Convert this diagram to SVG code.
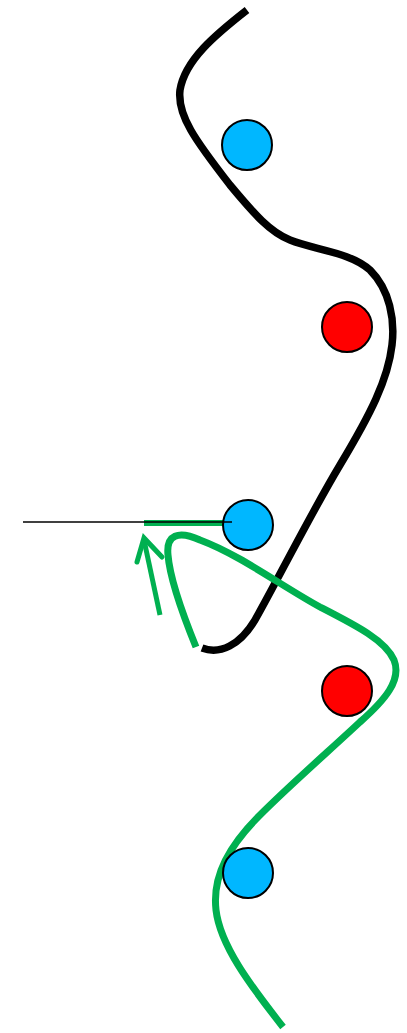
<svg xmlns="http://www.w3.org/2000/svg" width="407" height="1033" viewBox="0 0 407 1033">
<style>
.curve{fill:none;stroke-linecap:butt;stroke-linejoin:round}
.blk{stroke:#000;stroke-width:7.5}
.grn{stroke:#00B050;stroke-width:7}
.blue{fill:#00B7FF;stroke:#000;stroke-width:2}
.red{fill:#FF0000;stroke:#000;stroke-width:2}
</style>
<rect width="407" height="1033" fill="#fff"/>
<g id="connectors">
<path id="black-curve" class="curve blk" d="M247,10 C215,35 185,60 180,90 C177,115 195,140 230,185 C255,215 270,232 290,240 C315,250 350,252 370,270 C390,290 395,320 392,345 C388,380 370,415 340,465 C310,515 275,585 255,620 C240,645 220,655 202,648"/>
<path id="green-curve" class="curve grn" d="M196,647 C185,620 170,580 168,555 C166,535 178,530 200,540 C240,555 280,585 320,607 C355,625 385,640 394,660 C402,680 385,700 360,722 C330,750 290,785 260,815 C230,845 212,875 216,910 C220,945 250,985 283,1027"/>
<line id="green-bar" x1="144" y1="523" x2="226" y2="523" stroke="#00B050" stroke-width="6"/>
<g id="green-arrow" fill="none" stroke="#00B050" stroke-width="5">
<line x1="160" y1="615" x2="144" y2="540"/>
<polyline points="137,562 144,538 162,557" stroke-linejoin="miter" stroke-linecap="round"/>
</g>
</g>
<g id="node-blue1"><circle class="blue" cx="247" cy="145" r="25"/></g>
<g id="node-red1"><circle class="red" cx="347" cy="327" r="25"/></g>
<g id="node-blue2"><circle class="blue" cx="248" cy="525" r="25"/></g>
<g id="node-red2"><circle class="red" cx="347" cy="691" r="25"/></g>
<g id="node-blue3"><circle class="blue" cx="248" cy="873" r="25"/></g>
<line id="pointer" x1="23" y1="522" x2="232" y2="522" stroke="#000" stroke-width="1.6"/>
</svg>
